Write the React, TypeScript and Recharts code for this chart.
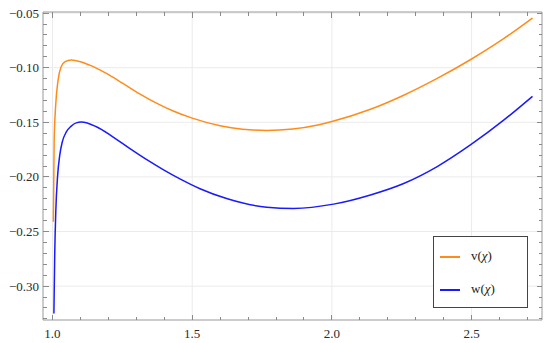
import React from 'react';
import { LineChart, Line, XAxis, YAxis, ReferenceLine, Legend } from 'recharts';

// v(χ) samples
const vX = [1.003, 1.0045, 1.006, 1.011, 1.020, 1.031, 1.045, 1.067, 1.10, 1.133, 1.193, 1.252, 1.312, 1.372, 1.432, 1.5, 1.6, 1.68, 1.767, 1.86, 1.95, 2.0, 2.138, 2.257, 2.377, 2.497, 2.616, 2.718];
const vY = [-0.241, -0.205, -0.166, -0.136, -0.1113, -0.0992, -0.0945, -0.0930, -0.0945, -0.0976, -0.1052, -0.1144, -0.1240, -0.1325, -0.1397, -0.1462, -0.1532, -0.1563, -0.1574, -0.1561, -0.1524, -0.1493, -0.1381, -0.1252, -0.1098, -0.0925, -0.0732, -0.0545];

// w(χ) samples
const wX = [1.005, 1.008, 1.012, 1.018, 1.026, 1.035, 1.049, 1.067, 1.085, 1.103, 1.157, 1.216, 1.276, 1.336, 1.396, 1.456, 1.528, 1.623, 1.767, 1.863, 2.006, 2.138, 2.257, 2.377, 2.497, 2.616, 2.718];
const wY = [-0.325, -0.270, -0.230, -0.200, -0.180, -0.168, -0.159, -0.1535, -0.1505, -0.1498, -0.1541, -0.1633, -0.1739, -0.1840, -0.1933, -0.2018, -0.2108, -0.2198, -0.2277, -0.2288, -0.2249, -0.2165, -0.2060, -0.1905, -0.1705, -0.1478, -0.1262];

const xMajorTicks = [1.0, 1.5, 2.0, 2.5];
const xTickLabels = ['1.0', '1.5', '2.0', '2.5'];
const xAllTicks = [1.0, 1.1, 1.2, 1.3, 1.4, 1.5, 1.6, 1.7, 1.8, 1.9, 2.0, 2.1, 2.2, 2.3, 2.4, 2.5, 2.6, 2.7];

const yMajorTicks = [-0.30, -0.25, -0.20, -0.15, -0.10, -0.05];
const yTickLabels = ['\u22120.30', '\u22120.25', '\u22120.20', '\u22120.15', '\u22120.10', '\u22120.05'];
const yAllTicks = [
  -0.33, -0.32, -0.31, -0.30, -0.29, -0.28, -0.27, -0.26, -0.25, -0.24, -0.23, -0.22, -0.21,
  -0.20, -0.19, -0.18, -0.17, -0.16, -0.15, -0.14, -0.13, -0.12, -0.11, -0.10, -0.09, -0.08,
  -0.07, -0.06, -0.05,
];

const xDomain = [0.966, 2.752];
const yDomain = [-0.331, -0.049];

const vData = vX.map((x, i) => ({ x, v: vY[i] }));
const wData = wX.map((x, i) => ({ x, w: wY[i] }));

const FRAME = '#999999';
const TICK = '#8a8a8a';
const GRID = '#ebebeb';
const LABEL = '#2b2b2b';
const FONT = '"Liberation Serif", "DejaVu Serif", serif';
const ORANGE = '#ff8c1a';
const BLUE = '#1a1aff';

const MAJOR = 5.5;
const MINOR = 3.5;

const isMajor = (arr: number[], v: number) => arr.findIndex((a) => Math.abs(a - v) < 1e-9);

const labelStyle = { fontFamily: FONT, fontSize: 13 } as React.CSSProperties;

const BottomTick = (props: any) => {
  const { x, y, payload } = props;
  const i = isMajor(xMajorTicks, payload.value);
  const len = i >= 0 ? MAJOR : MINOR;
  return (
    <g>
      <line x1={x} y1={y} x2={x} y2={y - len} stroke={TICK} strokeWidth={1} shapeRendering="crispEdges" />
      {i >= 0 && (
        <text x={x} y={y + 18} textAnchor="middle" fill={LABEL} style={labelStyle}>
          {xTickLabels[i]}
        </text>
      )}
    </g>
  );
};

const TopTick = (props: any) => {
  const { x, y, payload } = props;
  const i = isMajor(xMajorTicks, payload.value);
  const len = i >= 0 ? MAJOR : MINOR;
  return <line x1={x} y1={y} x2={x} y2={y + len} stroke={TICK} strokeWidth={1} shapeRendering="crispEdges" />;
};

const LeftTick = (props: any) => {
  const { x, y, payload } = props;
  const i = isMajor(yMajorTicks, payload.value);
  const len = i >= 0 ? MAJOR : MINOR;
  return (
    <g>
      <line x1={x} y1={y} x2={x + len} y2={y} stroke={TICK} strokeWidth={1} shapeRendering="crispEdges" />
      {i >= 0 && (
        <text x={x - 4} y={y + 4.5} textAnchor="end" fill={LABEL} style={labelStyle}>
          {yTickLabels[i]}
        </text>
      )}
    </g>
  );
};

const RightTick = (props: any) => {
  const { x, y, payload } = props;
  const i = isMajor(yMajorTicks, payload.value);
  const len = i >= 0 ? MAJOR : MINOR;
  return <line x1={x} y1={y} x2={x - len} y2={y} stroke={TICK} strokeWidth={1} shapeRendering="crispEdges" />;
};

const LegendBox = () => (
  <div
    style={{
      width: 93,
      height: 70,
      border: '1px solid #444',
      background: '#fff',
      fontFamily: FONT,
      fontSize: 13,
      color: '#222',
      position: 'relative',
    }}
  >
    <div style={{ position: 'absolute', left: 6, top: 19, width: 20, height: 1.5, background: ORANGE }} />
    <div style={{ position: 'absolute', left: 37, top: 11, lineHeight: '16px' }}>
      v(<i>χ</i>)
    </div>
    <div style={{ position: 'absolute', left: 6, top: 52, width: 20, height: 1.5, background: BLUE }} />
    <div style={{ position: 'absolute', left: 37, top: 44, lineHeight: '16px' }}>
      w(<i>χ</i>)
    </div>
  </div>
);

export default function App() {
  return (
    <div style={{ position: 'absolute', left: 0, top: 0, width: 550, height: 343, background: '#fff' }}>
      <LineChart width={550} height={343} margin={{ top: 0, right: 0, bottom: 0, left: 0 }}>
        <XAxis
          xAxisId="b"
          dataKey="x"
          type="number"
          orientation="bottom"
          domain={xDomain}
          allowDataOverflow
          ticks={xAllTicks}
          interval={0}
          height={23}
          tickSize={0}
          tickMargin={0}
          tickLine={false}
          axisLine={{ stroke: FRAME }}
          tick={<BottomTick />}
        />
        <XAxis
          xAxisId="t"
          dataKey="x"
          type="number"
          orientation="top"
          domain={xDomain}
          allowDataOverflow
          ticks={xAllTicks}
          interval={0}
          height={12}
          tickSize={0}
          tickMargin={0}
          tickLine={false}
          axisLine={{ stroke: FRAME }}
          tick={<TopTick />}
        />
        <YAxis
          yAxisId="l"
          type="number"
          orientation="left"
          domain={yDomain}
          allowDataOverflow
          ticks={yAllTicks}
          interval={0}
          width={43}
          tickSize={0}
          tickMargin={0}
          tickLine={false}
          axisLine={{ stroke: FRAME }}
          tick={<LeftTick />}
        />
        <YAxis
          yAxisId="r"
          type="number"
          orientation="right"
          domain={yDomain}
          allowDataOverflow
          ticks={yAllTicks}
          interval={0}
          width={8}
          tickSize={0}
          tickMargin={0}
          tickLine={false}
          axisLine={{ stroke: FRAME }}
          tick={<RightTick />}
        />
        {xMajorTicks.map((t) => (
          <ReferenceLine key={'gx' + t} x={t} xAxisId="b" yAxisId="l" stroke={GRID} strokeWidth={1} />
        ))}
        {yMajorTicks.map((t) => (
          <ReferenceLine key={'gy' + t} y={t} xAxisId="b" yAxisId="l" stroke={GRID} strokeWidth={1} />
        ))}
        <Line
          data={vData}
          dataKey="v"
          xAxisId="b"
          yAxisId="l"
          type="monotone"
          stroke={ORANGE}
          strokeWidth={1.5}
          dot={false}
          isAnimationActive={false}
        />
        <Line
          data={wData}
          dataKey="w"
          xAxisId="b"
          yAxisId="l"
          type="monotone"
          stroke={BLUE}
          strokeWidth={1.5}
          dot={false}
          isAnimationActive={false}
        />
        <Legend
          layout="vertical"
          align="center"
          verticalAlign="middle"
          content={<LegendBox />}
          wrapperStyle={{ position: 'absolute', left: 433, top: 236, width: 95, height: 72 }}
        />
      </LineChart>
    </div>
  );
}
